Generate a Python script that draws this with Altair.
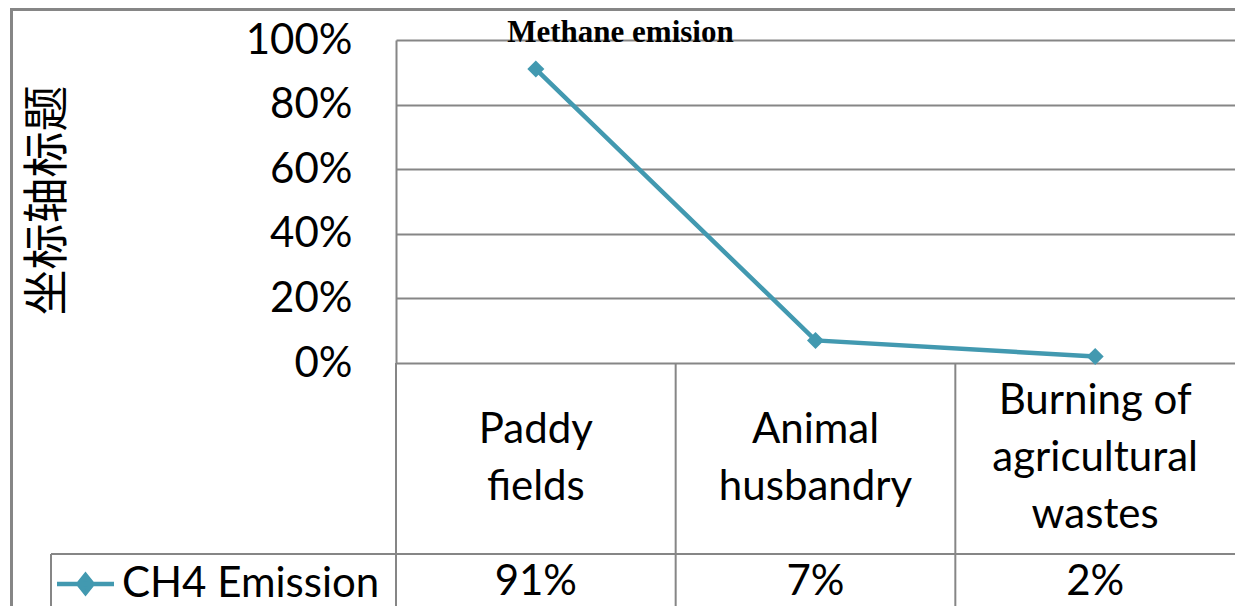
import altair as alt
import pandas as pd

# ---- data ----
categories = ["Paddy fields", "Animal husbandry", "Burning of agricultural wastes"]
category_lines = ["Paddy\nfields", "Animal\nhusbandry", "Burning of\nagricultural\nwastes"]
values = [0.91, 0.07, 0.02]
value_labels = ["91%", "7%", "2%"]
series_name = "CH4 Emission"
y_ticks = [0, 0.2, 0.4, 0.6, 0.8, 1.0]
title_text = "Methane emision"
y_title = "坐标轴标题"

df = pd.DataFrame({
    "category": categories,
    "label": category_lines,
    "value": values,
    "value_label": value_labels,
    "series": [series_name] * len(categories),
})

TEAL = "#4299B0"
GRAY = "#868686"
FONT = "Lato"

W, H = 839, 323
LINE_H = 57

xscale = alt.Scale(type="band", paddingInner=0, paddingOuter=0)


def xcenter():
    return alt.X("category:N", sort=categories, scale=xscale, axis=None, bandPosition=0.5)


base = alt.Chart(df)

line = base.mark_line(
    strokeWidth=4.5,
    point=alt.OverlayMarkDef(shape="diamond", filled=True, size=290, color=TEAL),
).encode(
    x=xcenter(),
    y=alt.Y(
        "value:Q",
        scale=alt.Scale(domain=[0, 1]),
        axis=alt.Axis(
            values=y_ticks,
            format=".0%",
            grid=True,
            gridColor=GRAY,
            gridWidth=2,
            domain=True,
            domainColor=GRAY,
            domainWidth=2,
            ticks=False,
            labelPadding=44,
            labelFont=FONT,
            labelFontSize=42,
            labelColor="black",
            title=y_title,
            titleFont="Noto Sans CJK SC",
            titleFontSize=46,
            titleFontWeight="normal",
            titleColor="black",
            titleAngle=270,
            titleX=-349,
            titleY=160,
            titleAlign="center",
            titleBaseline="middle",
        ),
    ),
    color=alt.Color(
        "series:N",
        scale=alt.Scale(range=[TEAL]),
        legend=alt.Legend(
            orient="none",
            legendX=-341.5,
            legendY=513,
            title=None,
            padding=0,
            symbolType="M-1,0L1,0M0,-0.31L0.25,0L0,0.31L-0.25,0Z",
            symbolSize=3249,
            symbolStrokeWidth=4.5,
            symbolFillColor=TEAL,
            symbolStrokeColor=TEAL,
            labelFont=FONT,
            labelFontSize=42,
            labelColor="black",
            labelOffset=5.5,
            labelLimit=400,
        ),
    ),
)

# category names in the data-table header cells, block centred vertically
cat_text = base.transform_calculate(
    ypix=f"418 - (length(split(datum.label, '\\n')) - 1) * {LINE_H / 2}"
).mark_text(
    font=FONT, fontSize=42, lineBreak="\n", lineHeight=LINE_H,
    align="center", baseline="middle", color="black",
).encode(x=xcenter(), y=alt.Y("ypix:Q", scale=None, axis=None), text="label:N")

val_text = base.mark_text(
    font=FONT, fontSize=42, align="center", baseline="middle", color="black",
).encode(x=xcenter(), y=alt.value(542), text="value_label:N")

# table cell separators at the category band boundaries
band_rules = base.mark_rule(color=GRAY, strokeWidth=2).encode(
    x=alt.X("category:N", sort=categories, scale=xscale, axis=None, bandPosition=0),
    y=alt.value(H),
    y2=alt.value(590),
)

one = alt.Data(values=[{}])
table_h = alt.Chart(one).mark_rule(color=GRAY, strokeWidth=2).encode(
    x=alt.value(-345), x2=alt.value(860), y=alt.value(514))
table_v = alt.Chart(one).mark_rule(color=GRAY, strokeWidth=2).encode(
    x=alt.value(-345), y=alt.value(514), y2=alt.value(590))
border_l = alt.Chart(one).mark_rule(color=GRAY, strokeWidth=3).encode(
    x=alt.value(-384.5), y=alt.value(-30.5), y2=alt.value(590))
border_t = alt.Chart(one).mark_rule(color=GRAY, strokeWidth=3).encode(
    x=alt.value(-386), x2=alt.value(860), y=alt.value(-30.5))

chart = alt.layer(
    border_l, border_t, table_h, table_v, band_rules, line, cat_text, val_text
).properties(
    width=W,
    height=H,
    padding={"left": 388, "top": 32, "right": 0, "bottom": 243},
    autosize=alt.AutoSizeParams(type="none"),
    background="white",
    title=alt.Title(
        title_text,
        font="Liberation Serif",
        fontSize=31,
        fontWeight="bold",
        color="black",
        anchor="middle",
        frame="group",
        offset=0,
        dx=-195,
        dy=65,
        baseline="alphabetic",
    ),
).configure_view(stroke=None)

chart.save("out.html", embed_options={"renderer": "svg", "actions": False})
